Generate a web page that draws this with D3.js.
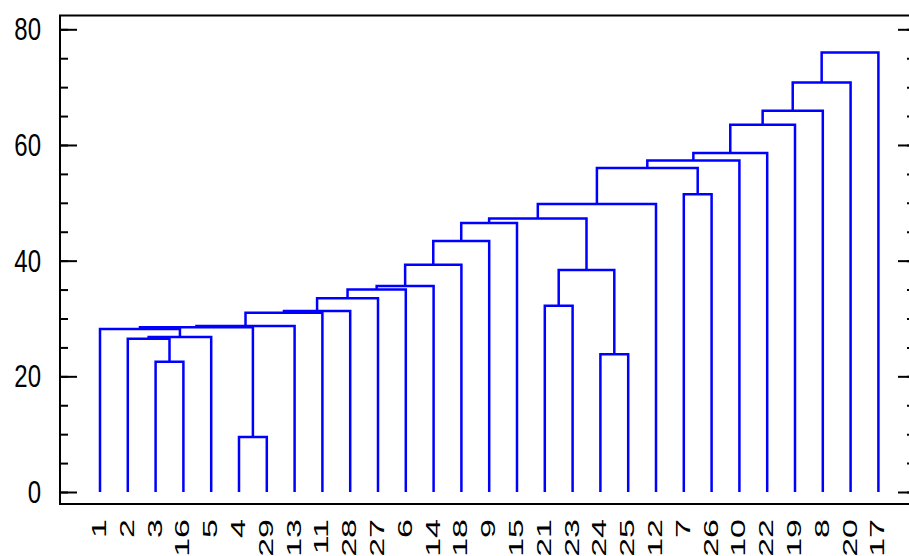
<!DOCTYPE html>
<html>
<head>
<meta charset="utf-8">
<script src="https://cdn.jsdelivr.net/npm/d3@7"></script>
<style>
  body { margin: 0; background: #fff; }
  svg { display: block; }
</style>
</head>
<body>
<div id="chart"></div>
<script>
// leaf order along the bottom (tick labels)
var leafOrder = ["1","2","3","16","5","4","29","13","11","28","27","6","14","18","9",
                 "15","21","23","24","25","12","7","26","10","22","19","8","20","17"];

// merges, hclust style: negative = leaf label, positive = earlier merge (1-based)
var mergeLeft  = [-4,-3,-24,-2,4,-1,6,7,8,9,-21,10,12,13,11,14,16,17,18,19,-7,20,22,23,24,25,26,27];
var mergeRight = [-29,-16,-25,2,-5,5,1,-13,-11,-28,-23,-27,-6,-14,3,-18,-9,-15,15,-12,-26,21,-10,-22,-19,-8,-20,-17];
var mergeHeight = [9.5,22.5,23.8,26.5,26.8,28.2,28.5,28.7,31.0,31.3,32.2,33.5,35.0,35.6,38.4,
                   39.3,43.4,46.5,47.3,49.8,51.5,56.0,57.3,58.6,63.5,65.9,70.8,76.0];

var yMinor = d3.range(0, 81, 5);
var yMajor = [0, 20, 40, 60, 80];

// frame / canvas
var W = 909, H = 556;
var frame = {left: 60, top: 15.5, right: 915, bottom: 504};

var svg = d3.select("#chart").append("svg")
    .attr("width", W)
    .attr("height", H);

// scales
var x = d3.scalePoint().domain(leafOrder).range([100, 878.4]);
var y = d3.scaleLinear().domain([0, 80]).range([492, 29.3]);

// build the tree from the merge table
function node(i) {
  if (i < 0) return {name: String(-i), h: 0};
  return {h: mergeHeight[i - 1], children: [node(mergeLeft[i - 1]), node(mergeRight[i - 1])]};
}
var root = d3.hierarchy(node(mergeHeight.length));
root.eachAfter(function(d) {
  d.px = d.children ? d3.mean(d.children, function(c) { return c.px; }) : x(d.data.name);
});

// dendrogram links
var links = svg.append("g")
    .attr("fill", "none")
    .attr("stroke", "#0000ff")
    .attr("stroke-width", 2.5)
    .attr("stroke-linejoin", "miter");

links.selectAll("path")
  .data(root.descendants().filter(function(d) { return d.children; }))
  .enter().append("path")
    .attr("d", function(d) {
      var a = d.children[0], b = d.children[1];
      return "M" + a.px + "," + y(a.data.h) +
             "V" + y(d.data.h) +
             "H" + b.px +
             "V" + y(b.data.h);
    });

// frame
svg.append("rect")
    .attr("x", frame.left)
    .attr("y", frame.top)
    .attr("width", frame.right - frame.left)
    .attr("height", frame.bottom - frame.top)
    .attr("fill", "none")
    .attr("stroke", "#000")
    .attr("stroke-width", 2);

// inward ticks, left and right
function ticks(axisFn, xpos, vals, size) {
  var g = svg.append("g")
      .attr("transform", "translate(" + xpos + ",0)")
      .call(axisFn(y).tickValues(vals).tickSize(size).tickFormat(""));
  g.select(".domain").remove();
  g.selectAll("line").attr("stroke", "#000").attr("stroke-width", 2);
}
ticks(d3.axisRight, frame.left, yMinor, 8);
ticks(d3.axisRight, frame.left, yMajor, 17);
ticks(d3.axisLeft, frame.right, yMinor, 8);
ticks(d3.axisLeft, frame.right, yMajor, 17);

// y labels (tall, stretched look)
svg.append("g").selectAll("text")
  .data(yMajor)
  .enter().append("text")
    .attr("transform", function(d) { return "translate(41," + y(d) + ") scale(1,1.3)"; })
    .attr("text-anchor", "end")
    .attr("dy", "0.35em")
    .style("font-family", "'Liberation Sans', Arial, sans-serif")
    .style("font-size", "24px")
    .attr("fill", "#000")
    .text(function(d) { return d; });

// x labels, rotated
svg.append("g").selectAll("text")
  .data(leafOrder)
  .enter().append("text")
    .attr("transform", function(d) { return "translate(" + x(d) + ",519) scale(1,1.7) rotate(-90)"; })
    .attr("text-anchor", "end")
    .attr("dy", "0.3em")
    .style("font-family", "'Liberation Sans', Arial, sans-serif")
    .style("font-size", "20px")
    .attr("fill", "#000")
    .text(function(d) { return d; });
</script>
</body>
</html>
